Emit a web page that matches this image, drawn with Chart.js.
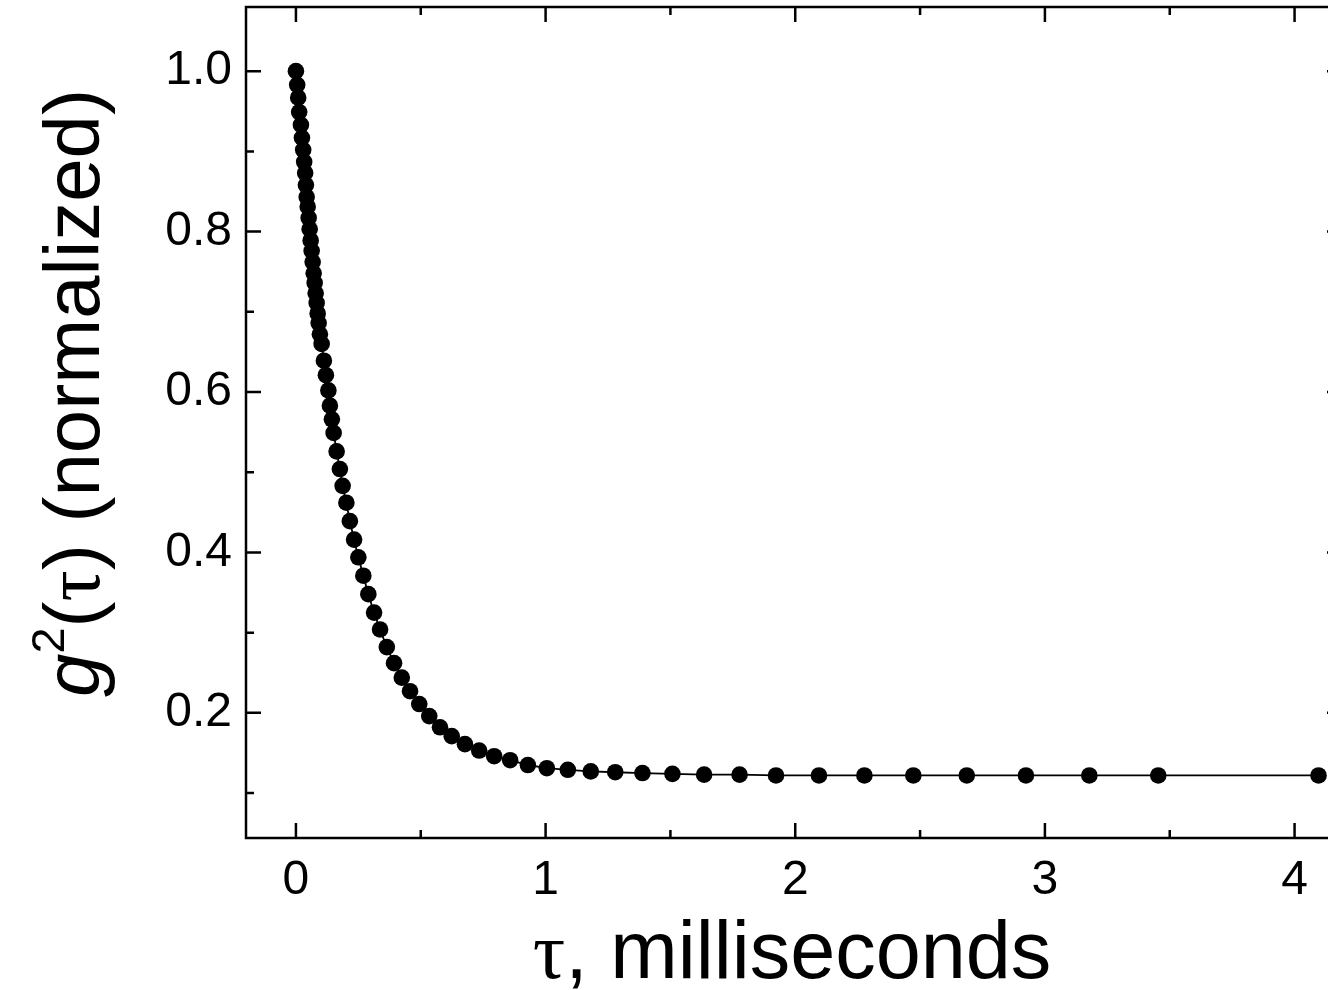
<!DOCTYPE html>
<html>
<head>
<meta charset="utf-8">
<title>g2(tau) normalized</title>
<script src="https://cdn.jsdelivr.net/npm/chart.js@4.4.1/dist/chart.umd.min.js"></script>
<style>
  html, body { margin: 0; padding: 0; background: #fff; overflow: hidden; }
  #wrap { width: 1350px; height: 990px; }
</style>
</head>
<body>
<div id="wrap"><canvas id="g2Chart" width="1350" height="990"></canvas></div>
<script>
// delay time tau (ms) and normalized g2
const tauMs = [
  0.000, 0.005, 0.009, 0.013, 0.020, 0.024, 0.029, 0.033, 0.037, 0.040,
  0.043, 0.047, 0.051, 0.055, 0.059, 0.063, 0.067, 0.071, 0.075, 0.079,
  0.083, 0.087, 0.091, 0.096, 0.103, 0.112, 0.120, 0.130, 0.136, 0.144,
  0.151, 0.163, 0.176, 0.187, 0.202, 0.216, 0.233, 0.250, 0.270, 0.290,
  0.313, 0.337, 0.364, 0.393, 0.424, 0.457, 0.494, 0.534, 0.577, 0.624,
  0.677, 0.734, 0.794, 0.858, 0.929, 1.005, 1.089, 1.181, 1.279, 1.388,
  1.508, 1.635, 1.777, 1.923, 2.095, 2.277, 2.473, 2.687, 2.924, 3.178,
  3.454, 4.096
];
const g2Norm = [
  1.000, 0.983, 0.967, 0.949, 0.933, 0.917, 0.902, 0.887, 0.873, 0.858,
  0.843, 0.831, 0.817, 0.803, 0.789, 0.776, 0.762, 0.748, 0.736, 0.723,
  0.711, 0.698, 0.686, 0.672, 0.660, 0.639, 0.621, 0.602, 0.583, 0.566,
  0.549, 0.526, 0.504, 0.483, 0.462, 0.439, 0.416, 0.394, 0.371, 0.348,
  0.325, 0.304, 0.282, 0.262, 0.244, 0.227, 0.211, 0.196, 0.182, 0.171,
  0.161, 0.153, 0.146, 0.141, 0.135, 0.131, 0.129, 0.127, 0.126, 0.125,
  0.124, 0.123, 0.123, 0.122, 0.122, 0.122, 0.122, 0.122, 0.122, 0.122,
  0.122, 0.122
];

// tick positions
const xMajorTicks = [0, 1, 2, 3, 4];
const xMinorTicks = [0.5, 1.5, 2.5, 3.5];
const yMajorTicks = [0.2, 0.4, 0.6, 0.8, 1.0];
const yMinorTicks = [0.1, 0.3, 0.5, 0.7, 0.9];

const xTitleRuns = [
  { text: 'τ', font: '81px "Liberation Serif"' },
  { text: ', milliseconds', font: '81px "Liberation Sans"' }
];
const yTitleRuns = [
  { text: 'g', font: 'italic 78px "Liberation Sans"' },
  { text: '2', font: '47px "Liberation Sans"', dy: -35 },
  { text: '(', font: '78px "Liberation Sans"' },
  { text: 'τ', font: '78px "Liberation Serif"' },
  { text: ') (normalized)', font: '78px "Liberation Sans"' }
];

// draw a line of mixed-font text centred on (0, 0), baseline at 0
function drawRuns(ctx, runs) {
  let total = 0;
  runs.forEach(r => { ctx.font = r.font; total += ctx.measureText(r.text).width; });
  let x = -total / 2;
  runs.forEach(r => {
    ctx.font = r.font;
    ctx.fillText(r.text, x, r.dy || 0);
    x += ctx.measureText(r.text).width;
  });
}

// box frame with inward ticks on all four sides
const frameTicks = {
  id: 'frameTicks',
  afterDatasetsDraw(chart) {
    const { ctx, chartArea: a, scales: { x, y } } = chart;
    ctx.save();
    ctx.strokeStyle = '#000';
    ctx.lineWidth = 2.5;
    ctx.strokeRect(a.left, a.top, a.right - a.left, a.bottom - a.top);
    const xt = (vals, len) => vals.forEach(v => {
      const px = x.getPixelForValue(v);
      ctx.beginPath();
      ctx.moveTo(px, a.bottom); ctx.lineTo(px, a.bottom - len);
      ctx.moveTo(px, a.top); ctx.lineTo(px, a.top + len);
      ctx.stroke();
    });
    const yt = (vals, len) => vals.forEach(v => {
      const py = y.getPixelForValue(v);
      ctx.beginPath();
      ctx.moveTo(a.left, py); ctx.lineTo(a.left + len, py);
      ctx.moveTo(a.right, py); ctx.lineTo(a.right - len, py);
      ctx.stroke();
    });
    xt(xMajorTicks, 15);
    xt(xMinorTicks, 8);
    yt(yMajorTicks, 15);
    yt(yMinorTicks, 8);
    ctx.restore();
  }
};

const axisTitles = {
  id: 'axisTitles',
  afterDraw(chart) {
    const ctx = chart.ctx;
    ctx.save();
    ctx.fillStyle = '#000';
    ctx.textBaseline = 'alphabetic';
    ctx.textAlign = 'left';
    ctx.save();
    ctx.translate(792, 978);
    drawRuns(ctx, xTitleRuns);
    ctx.restore();
    ctx.save();
    ctx.translate(99, 393);
    ctx.rotate(-Math.PI / 2);
    drawRuns(ctx, yTitleRuns);
    ctx.restore();
    ctx.restore();
  }
};

const tickFont = { family: '"Liberation Sans", Arial, sans-serif', size: 48 };

new Chart(document.getElementById('g2Chart'), {
  type: 'scatter',
  data: {
    datasets: [{
      data: tauMs.map((t, i) => ({ x: t, y: g2Norm[i] })),
      showLine: true,
      borderColor: '#000',
      borderWidth: 1.8,
      backgroundColor: '#000',
      pointRadius: 8.3,
      pointBorderWidth: 0,
      pointBackgroundColor: '#000',
      tension: 0
    }]
  },
  options: {
    responsive: false,
    animation: false,
    devicePixelRatio: 1,
    layout: { autoPadding: false, padding: { top: 7, right: 8, left: 0, bottom: 0 } },
    plugins: { legend: { display: false }, tooltip: { enabled: false } },
    scales: {
      x: {
        type: 'linear',
        min: -0.2,
        max: 4.19,
        grid: { display: false, drawTicks: false },
        border: { display: false },
        afterBuildTicks: s => { s.ticks = xMajorTicks.map(v => ({ value: v })); },
        afterFit: s => { s.height = 152; s.paddingLeft = 0; s.paddingRight = 0; },
        ticks: {
          color: '#000',
          font: tickFont,
          padding: 14,
          maxRotation: 0,
          callback: v => String(v)
        }
      },
      y: {
        type: 'linear',
        min: 0.044,
        max: 1.08,
        grid: { display: false, drawTicks: false },
        border: { display: false },
        afterBuildTicks: s => { s.ticks = yMajorTicks.map(v => ({ value: v })); },
        afterFit: s => { s.width = 246; s.paddingTop = 0; s.paddingBottom = 0; },
        ticks: {
          color: '#000',
          font: tickFont,
          padding: 14,
          callback: v => v.toFixed(1)
        }
      }
    }
  },
  plugins: [frameTicks, axisTitles]
});
</script>
</body>
</html>
